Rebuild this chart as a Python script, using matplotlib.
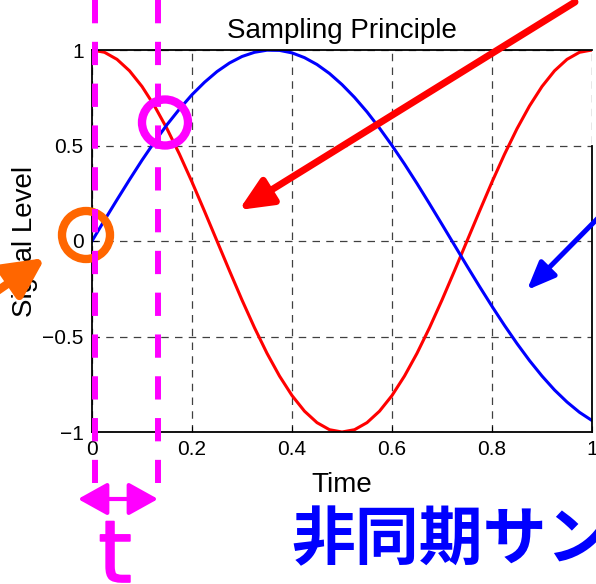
import matplotlib
matplotlib.use("Agg")
import matplotlib.pyplot as plt
import matplotlib.patheffects as pe
from matplotlib.patches import Circle, FancyArrowPatch

plt.rcParams['font.family'] = ['Liberation Sans', 'Noto Sans CJK JP', 'DejaVu Sans']

time = [i * 0.025 for i in range(41)]
red_signal = [1.000, 0.988, 0.951, 0.891, 0.809, 0.707, 0.588, 0.454, 0.309, 0.156,
              0.000, -0.156, -0.309, -0.454, -0.588, -0.707, -0.809, -0.891, -0.951, -0.988,
              -1.000, -0.988, -0.951, -0.891, -0.809, -0.707, -0.588, -0.454, -0.309, -0.156,
              0.000, 0.156, 0.309, 0.454, 0.588, 0.707, 0.809, 0.891, 0.951, 0.988, 1.000]
blue_signal = [0.000, 0.109, 0.216, 0.321, 0.423, 0.519, 0.609, 0.691, 0.766, 0.831,
               0.887, 0.932, 0.966, 0.988, 0.999, 0.998, 0.985, 0.960, 0.924, 0.877,
               0.819, 0.752, 0.676, 0.591, 0.500, 0.403, 0.301, 0.195, 0.087, -0.022,
               -0.131, -0.238, -0.342, -0.442, -0.537, -0.626, -0.707, -0.780, -0.843, -0.897, -0.940]
xticks = [0, 0.2, 0.4, 0.6, 0.8, 1]
xticklabels = ['0', '0.2', '0.4', '0.6', '0.8', '1']
yticks = [-1, -0.5, 0, 0.5, 1]
yticklabels = ['\u22121', '\u22120.5', '0', '0.5', '1']

W, H = 596, 584
fig = plt.figure(figsize=(W / 100, H / 100), dpi=100)
fig.patch.set_facecolor('white')

ax = fig.add_axes([92 / W, (H - 432) / H, 500 / W, 382 / H])
ax.plot(time, red_signal, color='#ff0000', lw=2.2)
ax.plot(time, blue_signal, color='#0000ff', lw=2.2)
ax.set_xlim(0, 1)
ax.set_ylim(-1, 1)
ax.set_xticks(xticks)
ax.set_xticklabels(xticklabels)
ax.set_yticks(yticks)
ax.set_yticklabels(yticklabels)
ax.grid(True, color='black', linestyle=(0, (6, 5)), lw=0.9, alpha=0.75)
ax.tick_params(direction='in', length=4, labelsize=15, colors='black', pad=6)
for s in ax.spines.values():
    s.set_linewidth(1.3)
ax.spines['right'].set_bounds(-1, 0.5)
ax.set_title('Sampling Principle', fontsize=20, pad=9)
ax.set_xlabel('Time', fontsize=20, labelpad=9)
ax.set_ylabel('Signal Level', fontsize=20, labelpad=3)

# overlay in pixel coordinates for annotations
ov = fig.add_axes([0, 0, 1, 1], facecolor='none')
ov.set_xlim(0, W)
ov.set_ylim(H, 0)
ov.axis('off')

mag = '#ff00ff'
for x in (94.5, 158):
    ov.plot([x, x], [0, 483], color=mag, lw=4.3, linestyle=(0, (3.9, 3.1)), solid_capstyle='butt')

ov.add_patch(FancyArrowPatch((78, 499), (158, 499), arrowstyle='<|-|>,head_length=18,head_width=10',
                             color=mag, lw=3, shrinkA=0, shrinkB=0))
ov.text(115, 582, 't', color=mag, fontsize=62, ha='center', va='baseline', family='DejaVu Sans',
        path_effects=[pe.withStroke(linewidth=1.2, foreground=mag)])

ov.add_patch(Circle((86, 235), 24, fill=False, edgecolor='#ff6600', lw=6))
ov.add_patch(Circle((165, 122.5), 23, fill=False, edgecolor=mag, lw=6))

ov.add_patch(FancyArrowPatch((-10, 296), (45, 258), arrowstyle='-|>,head_length=24,head_width=12',
                             color='#ff6600', lw=6, shrinkA=0, shrinkB=0))
ov.add_patch(FancyArrowPatch((575, 2), (239, 210), arrowstyle='-|>,head_length=20,head_width=9',
                             color='#ff0000', lw=5, shrinkA=0, shrinkB=0))
ov.add_patch(FancyArrowPatch((602, 214), (527, 290), arrowstyle='-|>,head_length=17,head_width=7',
                             color='#0000ff', lw=3.6, shrinkA=0, shrinkB=0))

ov.text(291, 559, '非同期サン', color='#0000ff', fontsize=46, fontweight='bold',
        ha='left', va='baseline', family=['Noto Sans CJK JP'])

fig.savefig('out.png', dpi=100)
